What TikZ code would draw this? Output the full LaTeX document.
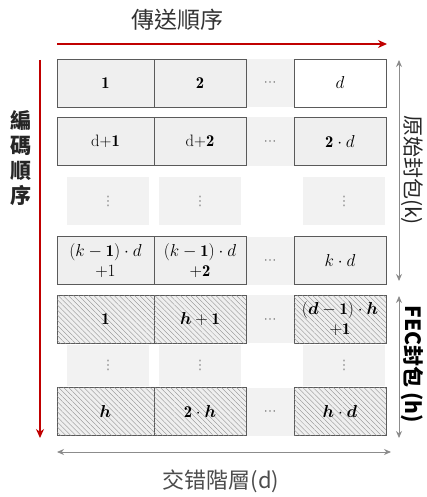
\documentclass[tikz,border=0pt]{standalone}
\usepackage{fontspec}
\usepackage{amsmath}
\usepackage{bm}
\usetikzlibrary{arrows.meta,patterns.meta}
\newfontfamily\cjk{Noto Sans CJK TC}
\newfontfamily\symf{DejaVu Sans}
\definecolor{cellc}{HTML}{EFEFEF}
\definecolor{bordc}{HTML}{5A5A5A}
\definecolor{gapcol}{HTML}{F2F2F2}
\definecolor{dotcol}{HTML}{8A8A8A}
\definecolor{hatchc}{HTML}{8C8C8C}
\definecolor{redc}{HTML}{C00000}
\definecolor{grayarr}{HTML}{8C8C8C}
\newcommand{\cellfont}{\fontsize{16.5}{20}\selectfont}
\newcommand{\dotfont}{\symf\fontsize{13}{15}\selectfont}
\tikzset{
  hatchpat/.style={pattern={Lines[angle=-45,distance=3.6pt,line width=0.35pt]}, pattern color=hatchc}
}
\begin{document}
\begin{tikzpicture}[x=1pt,y=-1pt,
  cell/.style={draw=bordc, fill=cellc, line width=0.8pt, minimum height=48pt, inner sep=0pt, align=center, font=\cellfont},
  wa/.style={minimum width=97pt},
  wb/.style={minimum width=92pt},
  fec/.style={cell, postaction={hatchpat}},
  gapcell/.style={fill=gapcol, minimum width=48pt, minimum height=48pt, inner sep=0pt, text=dotcol, font=\dotfont, text height=8pt, text depth=0pt},
  dotcell/.style={fill=gapcol, minimum width=82pt, inner sep=0pt, text=dotcol, font=\dotfont},
  redarrow/.style={draw=redc, line width=1.6pt, -{Stealth[length=9pt,width=8pt]}},
  grayarrow/.style={draw=grayarr, line width=0.9pt, {Stealth[length=7pt,width=6pt]}-{Stealth[length=7pt,width=6pt]}},
  lbl/.style={inner sep=0pt}
]
\useasboundingbox (0,0) rectangle (427,497);

% gap column cells
\node[gapcell] (g1) at (270,83) {⋯};
\node[gapcell] (g2) at (270,141.5) {⋯};
\node[gapcell] (g4) at (270,260.5) {⋯};
\node[gapcell] (g5) at (270,319) {⋯};
\node[gapcell] (g7) at (270,411.5) {⋯};

% row 1
\node[cell,wa] (r1c1) at (105.5,83) {$\mathbf{1}$};
\node[cell,wb] (r1c2) at (200,83) {$\mathbf{2}$};
\node[cell,wb,fill=white] (r1c4) at (340,83) {$d$};
% row 2
\node[cell,wa] (r2c1) at (105.5,141.5) {d+$\mathbf{1}$};
\node[cell,wb] (r2c2) at (200,141.5) {d+$\mathbf{2}$};
\node[cell,wb] (r2c4) at (340,141.5) {$\mathbf{2}\cdot d$};
% dots row 1
\node[dotcell,minimum height=48pt] (d1c1) at (108,201) {⋮};
\node[dotcell,minimum height=48pt] (d1c2) at (200,201) {⋮};
\node[dotcell,minimum height=48pt] (d1c4) at (344,201) {⋮};
% row k
\node[cell,wa] (r4c1) at (105.5,260.5) {$(k-\mathbf{1})\cdot d$\\$+1$};
\node[cell,wb] (r4c2) at (200,260.5) {$(k-\mathbf{1})\cdot d$\\$+\mathbf{2}$};
\node[cell,wb] (r4c4) at (340,260.5) {$k\cdot d$};
% FEC row 1
\node[fec,wa] (f1c1) at (105.5,319) {$\mathbf{1}$};
\node[fec,wb] (f1c2) at (200,319) {$\bm{h}+\mathbf{1}$};
\node[fec,wb] (f1c4) at (340,319) {$(\bm{d}-\mathbf{1})\cdot \bm{h}$\\$+\mathbf{1}$};
% dots row 2
\node[dotcell,minimum height=41pt] (d2c1) at (108,365.5) {⋮};
\node[dotcell,minimum height=41pt] (d2c2) at (200,365.5) {⋮};
\node[dotcell,minimum height=41pt] (d2c4) at (344,365.5) {⋮};
% FEC row h
\node[fec,wa] (f3c1) at (105.5,411.5) {$\bm{h}$};
\node[fec,wb] (f3c2) at (200,411.5) {$\mathbf{2}\cdot \bm{h}$};
\node[fec,wb] (f3c4) at (340,411.5) {$\bm{h}\cdot \bm{d}$};

% arrows
\coordinate (ts) at (57,44);
\coordinate (te) at (387,44);
\draw[redarrow] (ts) -- (te);
\coordinate (ls) at (40,60);
\coordinate (le) at (40,438);
\draw[redarrow] (ls) -- (le);
\coordinate (ks) at (399,60);
\coordinate (ke) at (399,281);
\draw[grayarrow] (ks) -- (ke);
\coordinate (hs) at (399,296);
\coordinate (he) at (399,438);
\draw[grayarrow] (hs) -- (he);
\coordinate (bs) at (57,452);
\coordinate (be) at (391,452);
\draw[grayarrow] (bs) -- (be);

% labels
\node[lbl,text=black!80,font=\cjk\fontsize{23}{23}\selectfont] (title) at (177,20) {傳送順序};
\node[lbl,align=center,text=black!85,font=\cjk\bfseries\fontsize{21}{25}\selectfont] (left) at (21,158) {編\\碼\\順\\序};
\node[lbl,rotate=-90,text=black!85,font=\cjk\fontsize{21}{21}\selectfont] (klab) at (412,170) {原始封包(k)};
\node[lbl,rotate=-90,text=black,font=\cjk\bfseries\fontsize{21}{21}\selectfont] (hlab) at (412,364) {FEC封包 (h)};
\node[lbl,text=black!70,font=\cjk\fontsize{22}{22}\selectfont] (blab) at (221,481) {交错階層(d)};
\end{tikzpicture}
\end{document}
